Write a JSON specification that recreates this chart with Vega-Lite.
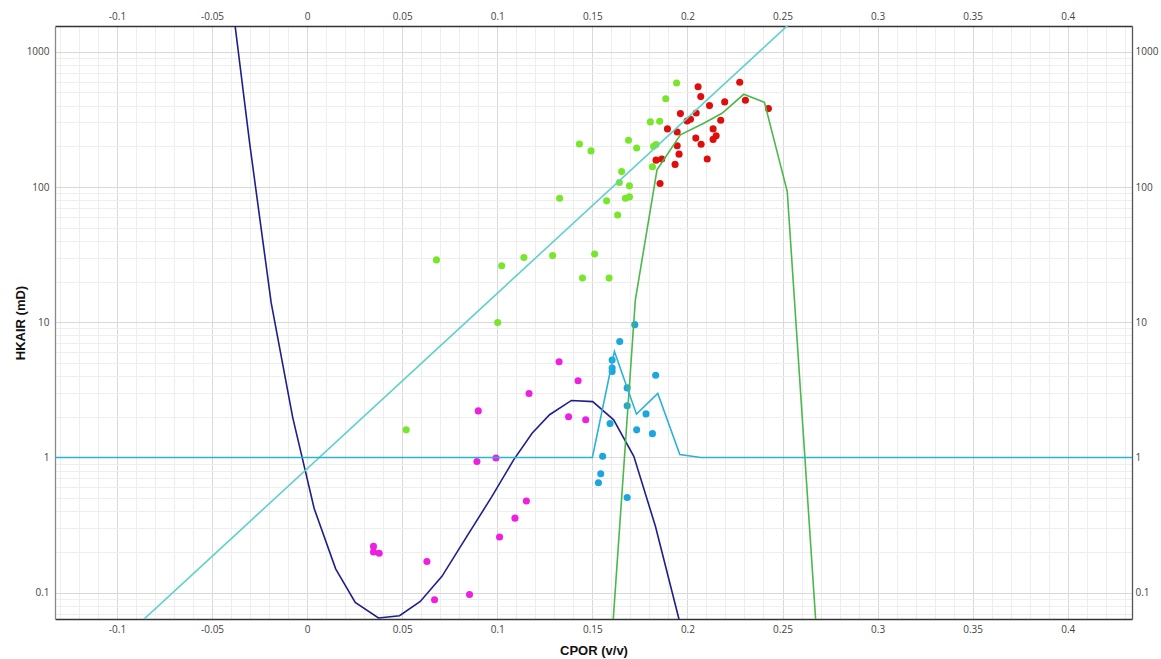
{
  "$schema": "https://vega.github.io/schema/vega-lite/v6.json",
  "width": 1077,
  "height": 593,
  "autosize": {"type": "none"},
  "padding": {"left": 55, "top": 26, "right": 29, "bottom": 40},
  "background": "white",
  "config": {
    "view": {"stroke": null},
    "axis": {
      "labelFont": "Open Sans",
      "labelFontSize": 10,
      "labelColor": "#444",
      "titleFont": "Liberation Sans",
      "titleFontSize": 13,
      "titleFontWeight": "bold",
      "titleColor": "#111",
      "ticks": false
    }
  },
  "datasets": {
    "pts": [
      {"s": "M", "x": 0.0349, "y": 0.22},
      {"s": "M", "x": 0.0349, "y": 0.2},
      {"s": "M", "x": 0.0379, "y": 0.196},
      {"s": "M", "x": 0.063, "y": 0.17},
      {"s": "M", "x": 0.067, "y": 0.0888},
      {"s": "M", "x": 0.0854, "y": 0.097},
      {"s": "M", "x": 0.09, "y": 2.21},
      {"s": "M", "x": 0.0893, "y": 0.934},
      {"s": "M", "x": 0.0993, "y": 0.99},
      {"s": "M", "x": 0.1012, "y": 0.258},
      {"s": "M", "x": 0.1093, "y": 0.356},
      {"s": "M", "x": 0.1153, "y": 0.476},
      {"s": "M", "x": 0.1167, "y": 2.97},
      {"s": "M", "x": 0.1325, "y": 5.1},
      {"s": "M", "x": 0.1425, "y": 3.69},
      {"s": "M", "x": 0.1375, "y": 2.0},
      {"s": "M", "x": 0.1465, "y": 1.9},
      {"s": "C", "x": 0.1723, "y": 9.6},
      {"s": "C", "x": 0.1644, "y": 7.2},
      {"s": "C", "x": 0.1604, "y": 5.25},
      {"s": "C", "x": 0.1604, "y": 4.58},
      {"s": "C", "x": 0.1604, "y": 4.32},
      {"s": "C", "x": 0.1833, "y": 4.06},
      {"s": "C", "x": 0.1683, "y": 3.27},
      {"s": "C", "x": 0.1683, "y": 2.41},
      {"s": "C", "x": 0.1782, "y": 2.1},
      {"s": "C", "x": 0.1593, "y": 1.78},
      {"s": "C", "x": 0.1733, "y": 1.6},
      {"s": "C", "x": 0.1816, "y": 1.5},
      {"s": "C", "x": 0.1554, "y": 1.02},
      {"s": "C", "x": 0.1544, "y": 0.758},
      {"s": "C", "x": 0.1532, "y": 0.65},
      {"s": "C", "x": 0.1683, "y": 0.506},
      {"s": "G", "x": 0.0521, "y": 1.6},
      {"s": "G", "x": 0.068, "y": 28.9},
      {"s": "G", "x": 0.1002, "y": 9.95},
      {"s": "G", "x": 0.1023, "y": 26.2},
      {"s": "G", "x": 0.114, "y": 30.1},
      {"s": "G", "x": 0.1291, "y": 31.1},
      {"s": "G", "x": 0.1328, "y": 82.7},
      {"s": "G", "x": 0.1432, "y": 208},
      {"s": "G", "x": 0.1448, "y": 21.2},
      {"s": "G", "x": 0.1493, "y": 185},
      {"s": "G", "x": 0.1512, "y": 32},
      {"s": "G", "x": 0.1575, "y": 79},
      {"s": "G", "x": 0.1588, "y": 21.2},
      {"s": "G", "x": 0.1633, "y": 62},
      {"s": "G", "x": 0.1642, "y": 108},
      {"s": "G", "x": 0.1654, "y": 130},
      {"s": "G", "x": 0.1674, "y": 82.7},
      {"s": "G", "x": 0.1695, "y": 84.5},
      {"s": "G", "x": 0.1695, "y": 102},
      {"s": "G", "x": 0.169, "y": 222},
      {"s": "G", "x": 0.1733, "y": 194},
      {"s": "G", "x": 0.1805, "y": 303},
      {"s": "G", "x": 0.1816, "y": 141},
      {"s": "G", "x": 0.1822, "y": 200},
      {"s": "G", "x": 0.1835, "y": 206},
      {"s": "G", "x": 0.1854, "y": 306},
      {"s": "G", "x": 0.1886, "y": 450},
      {"s": "G", "x": 0.1943, "y": 588},
      {"s": "R", "x": 0.2056, "y": 552},
      {"s": "R", "x": 0.2275, "y": 595},
      {"s": "R", "x": 0.207, "y": 466},
      {"s": "R", "x": 0.2116, "y": 400},
      {"s": "R", "x": 0.2196, "y": 426},
      {"s": "R", "x": 0.2305, "y": 438},
      {"s": "R", "x": 0.2426, "y": 380},
      {"s": "R", "x": 0.1963, "y": 349},
      {"s": "R", "x": 0.2046, "y": 353},
      {"s": "R", "x": 0.2016, "y": 317},
      {"s": "R", "x": 0.1998, "y": 308},
      {"s": "R", "x": 0.2175, "y": 312},
      {"s": "R", "x": 0.1895, "y": 269},
      {"s": "R", "x": 0.1946, "y": 255},
      {"s": "R", "x": 0.2135, "y": 269},
      {"s": "R", "x": 0.2044, "y": 230},
      {"s": "R", "x": 0.2151, "y": 239},
      {"s": "R", "x": 0.2135, "y": 225},
      {"s": "R", "x": 0.2072, "y": 207},
      {"s": "R", "x": 0.1946, "y": 202},
      {"s": "R", "x": 0.1956, "y": 175},
      {"s": "R", "x": 0.1835, "y": 158},
      {"s": "R", "x": 0.1865, "y": 161},
      {"s": "R", "x": 0.2104, "y": 161},
      {"s": "R", "x": 0.1935, "y": 147},
      {"s": "R", "x": 0.1856, "y": 106}
    ],
    "lines": [
      {"s": "navy", "o": 1, "x": -0.0414, "y": 3900},
      {"s": "navy", "o": 2, "x": -0.0301, "y": 204},
      {"s": "navy", "o": 3, "x": -0.0189, "y": 13.9},
      {"s": "navy", "o": 4, "x": -0.0076, "y": 1.98},
      {"s": "navy", "o": 5, "x": 0.0037, "y": 0.42},
      {"s": "navy", "o": 6, "x": 0.015, "y": 0.15},
      {"s": "navy", "o": 7, "x": 0.0253, "y": 0.0848},
      {"s": "navy", "o": 8, "x": 0.0375, "y": 0.065},
      {"s": "navy", "o": 9, "x": 0.0486, "y": 0.0676},
      {"s": "navy", "o": 10, "x": 0.0595, "y": 0.0862},
      {"s": "navy", "o": 11, "x": 0.0709, "y": 0.132},
      {"s": "navy", "o": 12, "x": 0.084, "y": 0.261},
      {"s": "navy", "o": 13, "x": 0.0972, "y": 0.515},
      {"s": "navy", "o": 14, "x": 0.1086, "y": 0.96},
      {"s": "navy", "o": 15, "x": 0.1183, "y": 1.51},
      {"s": "navy", "o": 16, "x": 0.1275, "y": 2.07},
      {"s": "navy", "o": 17, "x": 0.139, "y": 2.64},
      {"s": "navy", "o": 18, "x": 0.1502, "y": 2.59},
      {"s": "navy", "o": 19, "x": 0.1612, "y": 1.9},
      {"s": "navy", "o": 20, "x": 0.1718, "y": 1.02},
      {"s": "navy", "o": 21, "x": 0.1832, "y": 0.309},
      {"s": "navy", "o": 22, "x": 0.1954, "y": 0.065},
      {"s": "navy", "o": 23, "x": 0.205, "y": 0.012},
      {"s": "turq", "o": 1, "x": -0.1, "y": 0.0417},
      {"s": "turq", "o": 2, "x": 0.26, "y": 1945},
      {"s": "green", "o": 1, "x": 0.16, "y": 0.04},
      {"s": "green", "o": 2, "x": 0.1726, "y": 14.6},
      {"s": "green", "o": 3, "x": 0.184, "y": 134},
      {"s": "green", "o": 4, "x": 0.1963, "y": 243},
      {"s": "green", "o": 5, "x": 0.2086, "y": 296},
      {"s": "green", "o": 6, "x": 0.2182, "y": 351},
      {"s": "green", "o": 7, "x": 0.2296, "y": 485},
      {"s": "green", "o": 8, "x": 0.2405, "y": 423},
      {"s": "green", "o": 9, "x": 0.2525, "y": 92.5},
      {"s": "green", "o": 10, "x": 0.27, "y": 0.018},
      {"s": "cyan", "o": 1, "x": -0.2, "y": 1},
      {"s": "cyan", "o": 2, "x": 0.15, "y": 1},
      {"s": "cyan", "o": 3, "x": 0.1616, "y": 6.07},
      {"s": "cyan", "o": 4, "x": 0.1732, "y": 2.09},
      {"s": "cyan", "o": 5, "x": 0.1844, "y": 2.97},
      {"s": "cyan", "o": 6, "x": 0.196, "y": 1.05},
      {"s": "cyan", "o": 7, "x": 0.207, "y": 1.0},
      {"s": "cyan", "o": 8, "x": 0.5, "y": 1}
    ]
  },
  "layer": [
    {
      "data": {"name": "pts"},
      "mark": {"type": "circle", "size": 50, "opacity": 1},
      "encoding": {
        "x": {
          "field": "x", "type": "quantitative",
          "scale": {"domain": [-0.1326, 0.4338], "nice": false, "zero": false},
          "axis": {"orient": "bottom", "values": [-0.13,-0.12,-0.11,-0.09,-0.08,-0.07,-0.06,-0.04,-0.03,-0.02,-0.01,0.01,0.02,0.03,0.04,0.06,0.07,0.08,0.09,0.11,0.12,0.13,0.14,0.16,0.17,0.18,0.19,0.21,0.22,0.23,0.24,0.26,0.27,0.28,0.29,0.31,0.32,0.33,0.34,0.36,0.37,0.38,0.39,0.41,0.42,0.43],
                   "grid": true, "gridColor": "#eeeeee", "labels": false, "ticks": false, "domain": false, "title": null}
        },
        "y": {
          "field": "y", "type": "quantitative",
          "scale": {"type": "log", "domain": [0.0639, 1551], "nice": false},
          "axis": {"orient": "left", "values": [0.07,0.08,0.09,0.2,0.3,0.4,0.5,0.6,0.7,0.8,0.9,2,3,4,5,6,7,8,9,20,30,40,50,60,70,80,90,200,300,400,500,600,700,800,900],
                   "grid": true, "gridColor": "#eeeeee", "labels": false, "ticks": false, "domain": false, "title": null}
        },
        "color": {
          "field": "s", "type": "nominal", "legend": null,
          "scale": {"domain": ["G","R","C","M","navy","turq","green","cyan"],
                    "range": ["#78e62a","#e00d0d","#1ca6e0","#ee1fe0","#1f1f8c","#5fd1c9","#4cb84c","#2ab2d8"]}
        }
      }
    },
    {
      "data": {"name": "lines"},
      "transform": [{"filter": "datum.s !== 'cyan'"}],
      "mark": {"type": "line", "clip": true, "strokeWidth": 1.6},
      "encoding": {
        "x": {
          "field": "x", "type": "quantitative",
          "axis": {"orient": "bottom", "values": [-0.1,-0.05,0,0.05,0.1,0.15,0.2,0.25,0.3,0.35,0.4],
                   "grid": true, "gridColor": "#d9d9d9",
                   "labelExpr": "datum.value < 0 ? '-' + format(-datum.value, '~g') : format(datum.value, '~g')",
                   "labelPadding": 5, "domainColor": "#333", "domainWidth": 1.3,
                   "title": "CPOR (v/v)", "titleY": 25}
        },
        "y": {
          "field": "y", "type": "quantitative",
          "axis": {"orient": "left", "values": [0.1,1,10,100,1000],
                   "grid": true, "gridColor": "#d9d9d9", "format": "~g",
                   "labelPadding": 6, "domainColor": "#8a8a8a", "domainWidth": 1.3,
                   "title": "HKAIR (mD)", "titleX": -28, "titleY": 296.5}
        },
        "color": {"field": "s", "type": "nominal", "legend": null},
        "order": {"field": "o", "type": "quantitative"}
      }
    },
    {
      "data": {"name": "lines"},
      "transform": [{"filter": "datum.s === 'cyan'"}],
      "mark": {"type": "line", "clip": true, "strokeWidth": 1.6},
      "encoding": {
        "x": {
          "field": "x", "type": "quantitative",
          "axis": {"orient": "top", "values": [-0.1,-0.05,0,0.05,0.1,0.15,0.2,0.25,0.3,0.35,0.4],
                   "grid": false,
                   "labelExpr": "datum.value < 0 ? '-' + format(-datum.value, '~g') : format(datum.value, '~g')",
                   "labelPadding": 5, "domainColor": "#333", "domainWidth": 1.3, "title": null}
        },
        "y": {
          "field": "y", "type": "quantitative",
          "axis": {"orient": "right", "values": [0.1,1,10,100,1000],
                   "grid": false, "format": "~g",
                   "labelPadding": 3, "domainColor": "#555", "domainWidth": 1.3, "title": null}
        },
        "color": {"field": "s", "type": "nominal", "legend": null},
        "order": {"field": "o", "type": "quantitative"}
      }
    }
  ],
  "resolve": {"axis": {"x": "independent", "y": "independent"}}
}
